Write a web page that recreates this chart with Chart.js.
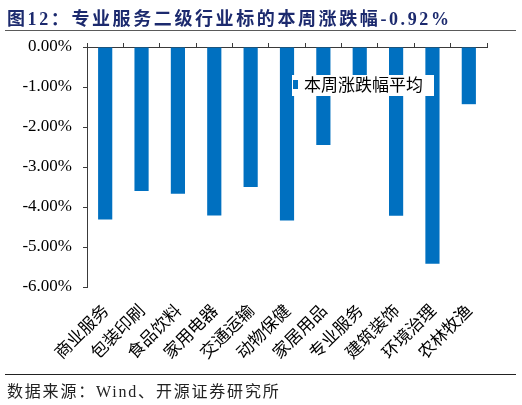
<!DOCTYPE html>
<html>
<head>
<meta charset="utf-8">
<script src="https://cdn.jsdelivr.net/npm/chart.js@4"></script>
<style>
    body { margin: 0; background: #ffffff; }
    #wrap { position: relative; width: 522px; height: 405px; }
    #wrap canvas { position: absolute; left: 0; top: 0; }
    .title {
        position: absolute; left: 7px; top: 4px;
        font: bold 18px "Liberation Serif", "Noto Sans CJK SC", serif;
        letter-spacing: 2.6px; color: #1c2a6e; white-space: nowrap;
    }
    .rule { position: absolute; left: 5px; width: 511px; }
    .source {
        position: absolute; left: 7px; top: 378px;
        font: 16px "Liberation Serif", "Noto Sans CJK SC", serif;
        letter-spacing: 1.8px; color: #222; white-space: nowrap;
    }
</style>
</head>
<body>
<div id="wrap">
    <canvas id="industryChart" width="522" height="405"></canvas>
    <div class="title">图12：专业服务二级行业标的本周涨跌幅-0.92%</div>
    <div class="rule" style="top:30px;height:0;border-top:1.5px solid #5a5a5a;"></div>
    <div class="rule" style="top:374px;height:0;border-top:1.5px solid #222;"></div>
    <div class="source">数据来源：Wind、开源证券研究所</div>
</div>
<script>
// Data
const industries = ['商业服务', '包装印刷', '食品饮料', '家用电器', '交通运输', '动物保健',
    '家居用品', '专业服务', '建筑装饰', '环境治理', '农林牧渔'];
const weeklyChange = [-4.31, -3.60, -3.67, -4.21, -3.50, -4.34, -2.45, -0.92, -4.22, -5.42, -1.43];
const seriesLabel = '本周涨跌幅平均';
const yMin = -6;
const yMax = 0;

const barColor = '#0070C0';
const axisColor = '#3a3a3a';

// Legend drawn inside the plot with a white backing box (covers the bars behind it)
const boxedLegend = {
    id: 'boxedLegend',
    afterDatasetsDraw(chart) {
        const ctx = chart.ctx;
        const area = chart.chartArea;
        const x = area.left + 205;
        const y = area.top + 28;
        ctx.save();
        ctx.fillStyle = '#ffffff';
        ctx.fillRect(x, y, 142, 21);
        ctx.fillStyle = barColor;
        ctx.fillRect(x + 1, y + 5, 5, 9);
        ctx.fillStyle = '#000000';
        ctx.font = '17px "Noto Sans CJK SC", sans-serif';
        ctx.textBaseline = 'middle';
        ctx.textAlign = 'left';
        ctx.fillText(chart.data.datasets[0].label, x + 12, y + 10);
        ctx.restore();
    }
};

const ctx = document.getElementById('industryChart').getContext('2d');
new Chart(ctx, {
    type: 'bar',
    data: {
        labels: industries,
        datasets: [{
            label: seriesLabel,
            data: weeklyChange,
            backgroundColor: barColor,
            borderWidth: 0,
            categoryPercentage: 1,
            barPercentage: 0.39
        }]
    },
    options: {
        responsive: false,
        animation: false,
        layout: {
            padding: { top: 43, right: 35, bottom: 0, left: 7 }
        },
        plugins: {
            legend: { display: false },
            tooltip: { enabled: false }
        },
        scales: {
            x: {
                position: 'bottom',
                grid: { display: false, drawTicks: false },
                border: { display: false },
                ticks: {
                    autoSkip: false,
                    minRotation: 45,
                    maxRotation: 45,
                    padding: 13,
                    color: '#000000',
                    font: { size: 17, family: '"Noto Sans CJK SC", sans-serif' }
                },
                afterFit: function(scale) {
                    scale.height = 118;
                }
            },
            x2: {
                type: 'category',
                position: 'top',
                offset: true,
                grid: {
                    offset: true,
                    drawOnChartArea: false,
                    drawTicks: true,
                    tickLength: 4,
                    color: axisColor
                },
                border: { display: true, color: axisColor, width: 1 },
                ticks: { display: false },
                afterFit: function(scale) {
                    scale.height = 4;
                }
            },
            y: {
                min: yMin,
                max: yMax,
                grid: {
                    drawOnChartArea: false,
                    tickLength: 4,
                    color: axisColor
                },
                border: { display: true, color: axisColor, width: 1 },
                ticks: {
                    stepSize: 1,
                    padding: 11,
                    color: '#000000',
                    font: { size: 17, family: '"Liberation Serif", serif' },
                    callback: function(value) {
                        return value.toFixed(2) + '%';
                    }
                },
                afterFit: function(scale) {
                    scale.width = 80;
                }
            }
        }
    },
    plugins: [boxedLegend]
});
</script>
</body>
</html>
